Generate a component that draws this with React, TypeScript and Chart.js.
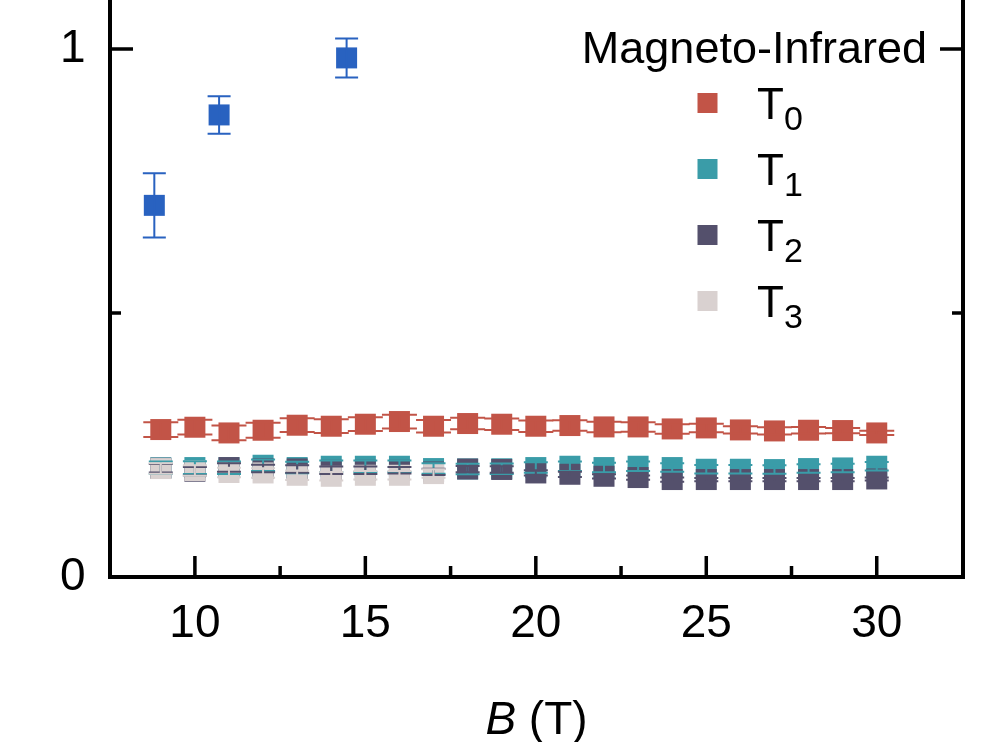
import React, { useEffect, useRef } from 'react';
import { Chart, registerables } from 'chart.js';

Chart.register(...registerables);

// ---------- data ----------
const B_FIELD = [9, 10, 11, 12, 13, 14, 15, 16, 17, 18, 19, 20, 21, 22, 23, 24, 25, 26, 27, 28, 29, 30];

const T0 = [0.2793, 0.2837, 0.2729, 0.278, 0.2875, 0.2856, 0.2894, 0.2945, 0.2856, 0.2907, 0.2894,
  0.2856, 0.2869, 0.2843, 0.2843, 0.2805, 0.2824, 0.2786, 0.2767, 0.278, 0.2774, 0.2729];
const T0_ERR = [0.014, 0.014, 0.014, 0.014, 0.013, 0.013, 0.013, 0.013, 0.012, 0.011, 0.011,
  0.011, 0.010, 0.010, 0.009, 0.009, 0.008, 0.007, 0.007, 0.006, 0.005, 0.004];

const T1 = [0.2069, 0.2073, 0.2069, 0.2117, 0.2073, 0.2098, 0.2098, 0.2098, 0.2054, 0.2047, 0.2050,
  0.2073, 0.2098, 0.2073, 0.2098, 0.2073, 0.2041, 0.2041, 0.2035, 0.2054, 0.2066, 0.2098];
const T1_ERR = [0.012, 0.012, 0.012, 0.011, 0.011, 0.011, 0.011, 0.011, 0.010, 0.010, 0.010,
  0.010, 0.009, 0.009, 0.009, 0.008, 0.008, 0.008, 0.008, 0.008, 0.008, 0.008];

const T2 = [0.206, 0.2003, 0.2073, 0.2054, 0.2047, 0.2022, 0.2022, 0.2022, 0.199, 0.2045, 0.2037,
  0.1971, 0.1946, 0.1908, 0.1884, 0.1846, 0.1846, 0.1846, 0.1846, 0.1846, 0.1846, 0.1857];
const T2_ERR = [0.008, 0.008, 0.008, 0.007, 0.007, 0.007, 0.007, 0.006, 0.006, 0.006, 0.006,
  0.005, 0.005, 0.004, 0.004, 0.004, 0.003, 0.003, 0.003, 0.003, 0.003, 0.003];

const B_FIELD_T3 = [9, 10, 11, 12, 13, 14, 15, 16, 17];
const T3 = [0.2054, 0.2016, 0.198, 0.1971, 0.1927, 0.1908, 0.1927, 0.1927, 0.1959];
const T3_ERR = [0.010, 0.010, 0.009, 0.009, 0.009, 0.008, 0.008, 0.008, 0.008];

const B_FIELD_BLUE = [8.81, 10.71, 14.45];
const BLUE = [0.704, 0.8753, 0.9833];
const BLUE_ERR = [0.061, 0.0356, 0.037];

const X_MAJOR = [10, 15, 20, 25, 30];
const X_MINOR = [12.5, 17.5, 22.5, 27.5];
const Y_MAJOR = [0, 1];
const Y_MINOR = [0.5];

const LEGEND_TITLE = 'Magneto-Infrared';
const LEGEND_SUBS = ['0', '1', '2', '3'];
const X_TITLE_ITALIC = 'B';
const X_TITLE_REST = ' (T)';

// ---------- style ----------
const COLORS = ['#C25447', '#3A9CA8', '#54506C', '#D9D1D0', '#2962C0'];
const FONT = '"Liberation Sans", Arial, Helvetica, sans-serif';

const toPts = (xs: number[], ys: number[]) => xs.map((x, i) => ({ x, y: ys[i] }));

const errorBarPlugin = {
  id: 'errorBars',
  afterDatasetsDraw(chart: any) {
    const ctx = chart.ctx;
    const yScale = chart.scales.y;
    ctx.save();
    chart.data.datasets.forEach((ds: any, di: number) => {
      const meta = chart.getDatasetMeta(di);
      const errs: number[] = ds.errors || [];
      const half = (ds.capWidth || 24) / 2;
      ctx.strokeStyle = ds.backgroundColor;
      ctx.lineWidth = 2;
      meta.data.forEach((el: any, i: number) => {
        const v = ds.data[i].y;
        const e = errs[i] || 0;
        const x = el.x;
        const yt = yScale.getPixelForValue(v + e);
        const yb = yScale.getPixelForValue(v - e);
        ctx.beginPath();
        ctx.moveTo(x, yt);
        ctx.lineTo(x, yb);
        ctx.moveTo(x - half, yt);
        ctx.lineTo(x + half, yt);
        ctx.moveTo(x - half, yb);
        ctx.lineTo(x + half, yb);
        ctx.stroke();
      });
    });
    ctx.restore();
  },
};

const framePlugin = {
  id: 'frame',
  afterDraw(chart: any) {
    const ctx = chart.ctx;
    const { left, right, bottom } = chart.chartArea;
    const xs = chart.scales.x;
    const ys = chart.scales.y;
    ctx.save();
    ctx.strokeStyle = '#000';
    ctx.lineWidth = 4;
    ctx.lineJoin = 'miter';
    ctx.beginPath();
    ctx.moveTo(left, 0);
    ctx.lineTo(left, bottom);
    ctx.lineTo(right, bottom);
    ctx.lineTo(right, 0);
    ctx.stroke();

    ctx.lineWidth = 3.5;
    ctx.beginPath();
    X_MAJOR.forEach((v) => {
      const p = xs.getPixelForValue(v);
      ctx.moveTo(p, bottom);
      ctx.lineTo(p, bottom - 21);
    });
    X_MINOR.forEach((v) => {
      const p = xs.getPixelForValue(v);
      ctx.moveTo(p, bottom);
      ctx.lineTo(p, bottom - 11);
    });
    Y_MAJOR.forEach((v) => {
      const p = ys.getPixelForValue(v);
      ctx.moveTo(left, p);
      ctx.lineTo(left + 23, p);
      ctx.moveTo(right, p);
      ctx.lineTo(right - 23, p);
    });
    Y_MINOR.forEach((v) => {
      const p = ys.getPixelForValue(v);
      ctx.moveTo(left, p);
      ctx.lineTo(left + 11, p);
      ctx.moveTo(right, p);
      ctx.lineTo(right - 11, p);
    });
    ctx.stroke();

    // legend
    ctx.fillStyle = '#000';
    ctx.textBaseline = 'alphabetic';
    ctx.font = `45px ${FONT}`;
    ctx.textAlign = 'right';
    ctx.fillText(LEGEND_TITLE, 927, 63);
    ctx.textAlign = 'left';
    LEGEND_SUBS.forEach((s, i) => {
      const cy = 103 + 66 * i;
      ctx.fillStyle = COLORS[i];
      ctx.fillRect(697.5, cy - 10, 20, 20);
      ctx.fillStyle = '#000';
      ctx.font = `44px ${FONT}`;
      ctx.fillText('T', 757, cy + 15.5);
      const w = ctx.measureText('T').width;
      ctx.font = `34px ${FONT}`;
      ctx.fillText(s, 757 + w, cy + 27);
    });

    // x title
    ctx.font = `italic 46px ${FONT}`;
    const w1 = ctx.measureText(X_TITLE_ITALIC).width;
    ctx.font = `46px ${FONT}`;
    const w2 = ctx.measureText(X_TITLE_REST).width;
    const cx = (left + right) / 2;
    const x0 = cx - (w1 + w2) / 2;
    ctx.font = `italic 46px ${FONT}`;
    ctx.fillText(X_TITLE_ITALIC, x0, 734);
    ctx.font = `46px ${FONT}`;
    ctx.fillText(X_TITLE_REST, x0 + w1, 734);
    ctx.restore();
  },
};

function makeDataset(label: string, xs: number[], ys: number[], errs: number[], color: string, capWidth: number, order: number) {
  return {
    label,
    data: toPts(xs, ys),
    errors: errs,
    capWidth,
    order,
    backgroundColor: color,
    borderColor: color,
    borderWidth: 0,
    pointStyle: 'rect',
    pointRadius: 14.85,
    showLine: false,
  };
}

export default function App() {
  const ref = useRef<HTMLCanvasElement | null>(null);

  useEffect(() => {
    if (!ref.current) return;
    const chart = new Chart(ref.current, {
      type: 'scatter',
      data: {
        datasets: [
          makeDataset('T0', B_FIELD, T0, T0_ERR, COLORS[0], 35, 4),
          makeDataset('T1', B_FIELD, T1, T1_ERR, COLORS[1], 24, 3),
          makeDataset('T2', B_FIELD, T2, T2_ERR, COLORS[2], 24, 2),
          makeDataset('T3', B_FIELD_T3, T3, T3_ERR, COLORS[3], 24, 1),
          makeDataset('Blue', B_FIELD_BLUE, BLUE, BLUE_ERR, COLORS[4], 23, 0),
        ] as any,
      },
      options: {
        responsive: false,
        animation: false,
        events: [],
        layout: { autoPadding: false, padding: { left: 0, right: 43, top: 0, bottom: 0 } },
        plugins: { legend: { display: false }, tooltip: { enabled: false }, title: { display: false } },
        scales: {
          x: {
            type: 'linear',
            min: 7.51,
            max: 32.53,
            grid: { display: false, drawTicks: false },
            border: { display: false },
            ticks: { color: '#000', font: { family: FONT, size: 46 }, padding: 20, maxRotation: 0 },
            afterBuildTicks: (s: any) => { s.ticks = X_MAJOR.map((v) => ({ value: v })); },
            afterFit: (s: any) => { s.height = 165; s.paddingLeft = 0; s.paddingRight = 0; },
          },
          y: {
            type: 'linear',
            min: 0,
            max: 1.093,
            grid: { display: false, drawTicks: false },
            border: { display: false },
            ticks: { color: '#000', font: { family: FONT, size: 46 }, padding: 24.5 },
            afterBuildTicks: (s: any) => { s.ticks = Y_MAJOR.map((v) => ({ value: v })); },
            afterFit: (s: any) => { s.width = 110; s.paddingTop = 0; s.paddingBottom = 0; },
          },
        },
      } as any,
      plugins: [errorBarPlugin, framePlugin],
    });
    return () => chart.destroy();
  }, []);

  return (
    <div style={{ position: 'fixed', left: 0, top: 0, width: 1006, height: 742, background: '#fff' }}>
      <canvas ref={ref} width={1006} height={742} style={{ display: 'block' }} />
    </div>
  );
}
